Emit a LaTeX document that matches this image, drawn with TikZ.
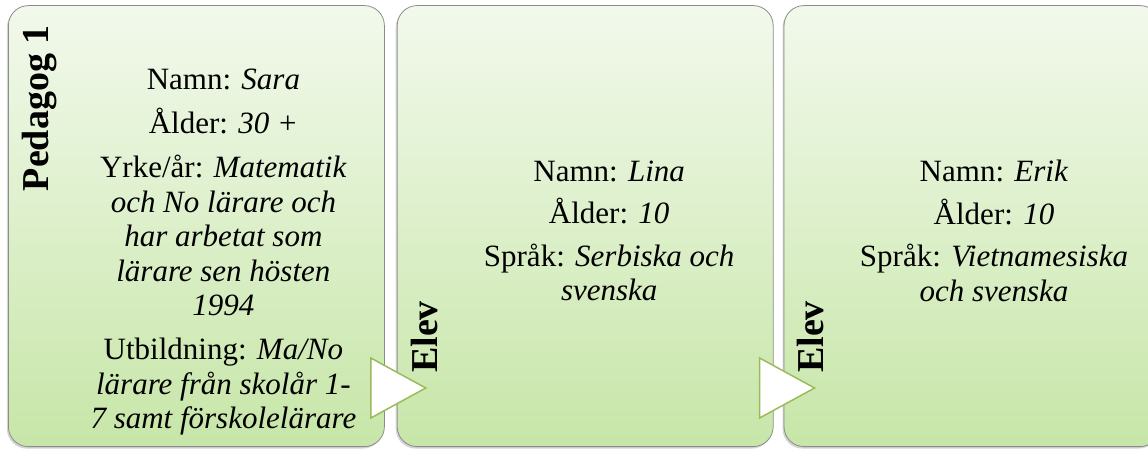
\documentclass[tikz,border=0pt]{standalone}
\usepackage{fontspec}
\setmainfont{Liberation Serif}
\usetikzlibrary{positioning,shadows}

\definecolor{cardtop}{HTML}{F2F9EC}
\definecolor{cardbot}{HTML}{C7E6A8}
\definecolor{cardline}{HTML}{8C8C8C}
\definecolor{triline}{HTML}{9BBB59}

\tikzset{
    card/.style={rectangle, rounded corners=20pt, draw=cardline, line width=0.8pt,
        top color=cardtop, bottom color=cardbot,
        drop shadow={opacity=0.35, shadow xshift=-1.5pt, shadow yshift=-2pt},
        minimum width=376pt, minimum height=441pt, inner sep=0pt},
    cardtitle/.style={rotate=90, inner sep=0pt, font=\fontsize{38}{42}\selectfont\bfseries},
    cardtext/.style={align=center, inner sep=0pt, font=\fontsize{31}{34.5}\selectfont},
    arrowtri/.style={fill=white, draw=triline, line width=1.5pt, line join=miter}
}

\begin{document}
\begin{tikzpicture}[x=1pt, y=1pt]

    \useasboundingbox (0,0) rectangle (1148,455);

    % --- Cards ---
    \node[card, anchor=south west] (pedagog) at (8,8) {};
    \node[card, right=12pt of pedagog] (lina) {};
    \node[card, right=10pt of lina] (erik) {};

    % --- Arrow triangles between the cards ---
    \foreach \b in {pedagog, lina} {
        \draw[arrowtri] ([xshift=-14pt, yshift=29pt]\b.south east) -- ++(55,30) -- ++(-55,30) -- cycle;
    }

    % --- Titles (rotated) ---
    \node[cardtitle, anchor=east] (pedagogtitle) at ([xshift=32pt, yshift=-20pt]pedagog.north west) {Pedagog 1};
    \node[cardtitle, anchor=west] (linatitle) at ([xshift=28pt, yshift=74pt]lina.south west) {Elev};
    \node[cardtitle, anchor=west] (eriktitle) at ([xshift=27pt, yshift=74pt]erik.south west) {Elev};

    % --- Card texts ---
    \node[cardtext] (pedagogtext) at ([xshift=27pt, yshift=-26pt]pedagog.center) {%
        Namn: \textit{Sara}\\[9.5pt]
        Ålder: \textit{30 +}\\[9.5pt]
        Yrke/år: \textit{Matematik}\\
        \textit{och No lärare och}\\
        \textit{har arbetat som}\\
        \textit{lärare sen hösten}\\
        \textit{1994}\\[9.5pt]
        Utbildning: \textit{Ma/No}\\
        \textit{lärare från skolår 1-}\\
        \textit{7 samt förskolelärare}};

    \node[cardtext] (linatext) at ([xshift=24pt, yshift=-5pt]lina.center) {%
        Namn: \textit{Lina}\\[8pt]
        Ålder: \textit{10}\\[8pt]
        Språk: \textit{Serbiska och}\\
        \textit{svenska}};

    \node[cardtext] (eriktext) at ([xshift=22pt, yshift=-5pt]erik.center) {%
        Namn: \textit{Erik}\\[8pt]
        Ålder: \textit{10}\\[8pt]
        Språk: \textit{Vietnamesiska}\\
        \textit{och svenska}};

\end{tikzpicture}
\end{document}
